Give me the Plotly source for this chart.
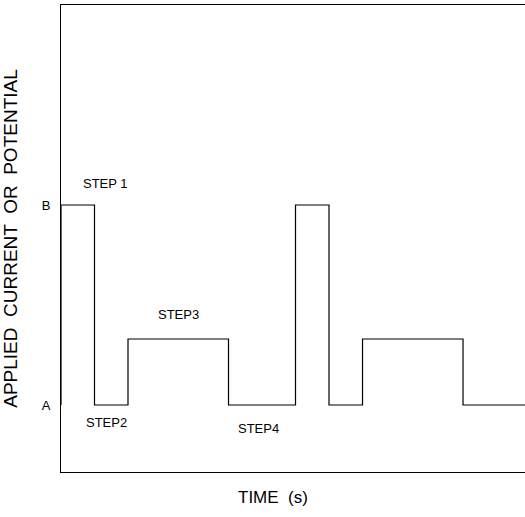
import plotly.graph_objects as go

# Waveform: change times (s units) and applied levels (A=0, B=1)
times = [0, 0, 1, 2, 5, 7, 8, 9, 12, 13.9]
levels = [0, 1, 0, 0.33, 0, 1, 0, 0.33, 0, 0]
tick_vals = [0, 1]
tick_text = ["A", "B"]
step_labels = ["STEP 1", "STEP2", "STEP3", "STEP4"]
step_x = [1.32, 1.35, 3.5, 5.9]
step_y = [1.11, -0.085, 0.455, -0.115]

fig = go.Figure()
fig.add_trace(go.Scatter(x=times, y=levels, mode="lines", line_shape="hv",
                         line=dict(color="black", width=1.2), hoverinfo="skip",
                         showlegend=False))

font = "Liberation Sans, Arial, sans-serif"
for t, x, y in zip(step_labels, step_x, step_y):
    fig.add_annotation(x=x, y=y, text=t, showarrow=False,
                       font=dict(family=font, size=13, color="black"))

fig.add_annotation(x=6.33, y=0, xref="x", yref="paper", yanchor="top", yshift=-14,
                   text="TIME  (s)", showarrow=False,
                   font=dict(family=font, size=17, color="black"))

fig.update_layout(
    width=525, height=517,
    margin=dict(l=61, r=0, t=5, b=45),
    plot_bgcolor="white", paper_bgcolor="white",
    xaxis=dict(range=[0, 13.85], showline=True, mirror=True, linecolor="black",
               linewidth=1.2, showgrid=False, zeroline=False, showticklabels=False,
               ticks=""),
    yaxis=dict(range=[-0.335, 2.0], showline=True, mirror=False, linecolor="black",
               linewidth=1.2, showgrid=False, zeroline=False,
               tickvals=tick_vals, ticktext=tick_text, ticks="outside",
               ticklen=7, tickcolor="white",
               tickfont=dict(family=font, size=13, color="black"),
               title=dict(text="APPLIED  CURRENT  OR  POTENTIAL",
                          font=dict(family=font, size=19, color="black"), standoff=20)),
)

fig.write_html("out.html", config={"displayModeBar": False},
               post_script="document.body.style.margin='0';")
